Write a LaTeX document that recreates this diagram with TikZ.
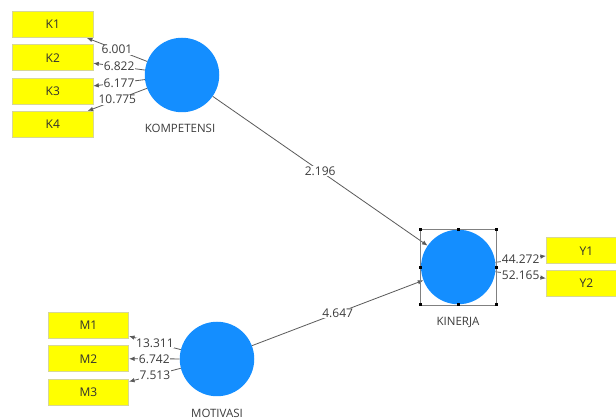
\documentclass[tikz,border=0pt]{standalone}
\usepackage{fontspec}
\setmainfont{Open Sans}
\usetikzlibrary{arrows.meta}
\definecolor{lvblue}{RGB}{20,142,255}
\definecolor{boxyellow}{RGB}{255,255,0}
\definecolor{boxborder}{RGB}{215,215,150}
\definecolor{txtgray}{RGB}{60,60,60}
\definecolor{linegray}{RGB}{90,90,90}
\tikzset{
  x=1pt, y=-1pt,
  latent/.style={circle, fill=lvblue, draw=none, minimum size=74.5pt, inner sep=0pt},
  indic/.style={rectangle, fill=boxyellow, draw=boxborder, line width=0.6pt, minimum width=80.5pt, minimum height=26pt, inner sep=0pt, font=\fontsize{12}{12}\selectfont, text=txtgray!80!black},
  lvlabel/.style={font=\fontsize{11.5}{12}\selectfont, text=txtgray, inner sep=0pt},
  conn/.style={draw=linegray, line width=0.8pt, -{Latex[length=5.5pt,width=4.5pt]}},
  coef/.style={fill=white, inner sep=0.6pt, font=\fontsize{12}{12}\selectfont, text=txtgray},
  handle/.style={fill=black, draw=none, minimum size=3pt, inner sep=0pt, rectangle}
}
\begin{document}
\begin{tikzpicture}
\clip (0,0) rectangle (616,419);
\fill[white] (0,0) rectangle (616,419);
% latent variables
\node[latent] (komp) at (182,75) {};
\node[latent] (kin) at (458.3,267) {};
\node[latent] (mot) at (217,359) {};
\node[lvlabel] (kompl) at (180,128.5) {KOMPETENSI};
\node[lvlabel] (kinl) at (458,322.5) {KINERJA};
\node[lvlabel] (motl) at (217,413) {MOTIVASI};
% indicators
\node[indic] (k1) at (52.75,24.7) {K1};
\node[indic] (k2) at (52.75,57.8) {K2};
\node[indic] (k3) at (52.75,91) {K3};
\node[indic] (k4) at (52.75,124.2) {K4};
\node[indic] (m1) at (88.5,325.7) {M1};
\node[indic] (m2) at (88.5,358.7) {M2};
\node[indic] (m3) at (88.5,392) {M3};
\node[indic] (y1) at (586.5,250.8) {Y1};
\node[indic] (y2) at (586.5,283.5) {Y2};
% outer loadings
\draw[conn] (komp) -- node[coef] {6.001} (k1);
\draw[conn] (komp) -- node[coef] {6.822} (k2);
\draw[conn] (komp) -- node[coef] {6.177} (k3);
\draw[conn] (komp) -- node[coef] {10.775} (k4);
\draw[conn] (mot) -- node[coef] {13.311} (m1);
\draw[conn] (mot) -- node[coef] {6.742} (m2);
\draw[conn] (mot) -- node[coef] {7.513} (m3);
\draw[conn] (kin) -- node[coef] {44.272} (y1);
\draw[conn] (kin) -- node[coef] {52.165} (y2);
% structural paths
\draw[conn] (komp) -- node[coef] {2.196} (kin);
\draw[conn] (mot) -- node[coef] {4.647} (kin);
% selection frame
\coordinate (s1) at (420.7,229.5);
\coordinate (s2) at (496,305);
\draw[draw=gray, line width=0.7pt] (s1) rectangle (s2);
\foreach \hx/\hy in {420.7/229.5, 458.35/229.5, 496/229.5, 420.7/267.25, 496/267.25, 420.7/305, 458.35/305, 496/305}{
  \node[handle] at (\hx,\hy) {};
}
\end{tikzpicture}
\end{document}
